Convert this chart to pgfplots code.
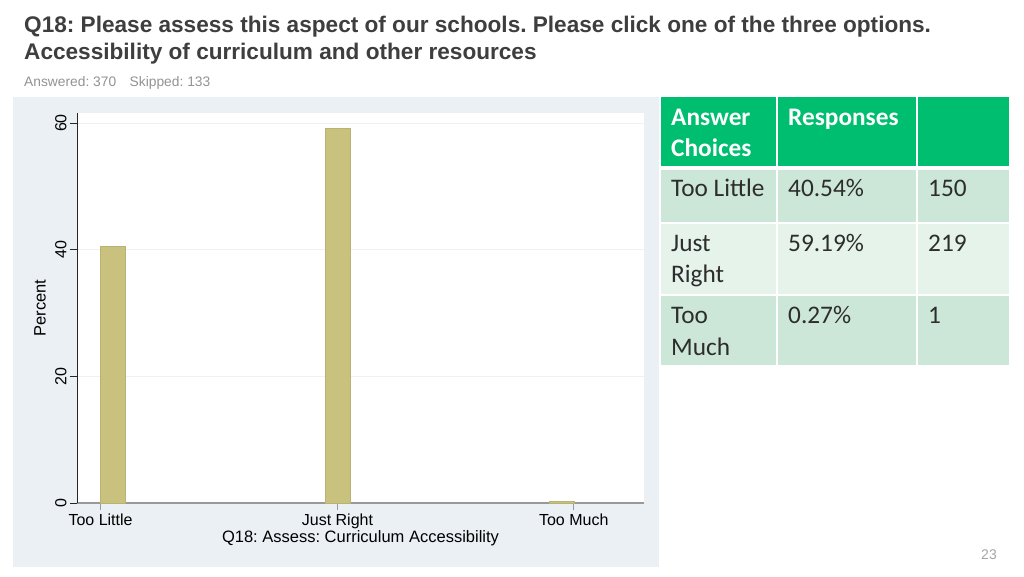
\documentclass[border=0pt]{standalone}
\usepackage{pgfplots}
\pgfplotsset{compat=1.18}
\usepackage{fontspec}
\setmainfont{Liberation Sans}
\newfontfamily\calfont{Carlito}
\definecolor{panel}{RGB}{234,240,243}
\definecolor{barcol}{RGB}{201,194,126}
\definecolor{hdr}{RGB}{0,190,111}
\definecolor{rowA}{RGB}{204,231,215}
\definecolor{rowB}{RGB}{229,243,234}
\definecolor{titlec}{RGB}{62,62,62}
\definecolor{cellt}{RGB}{45,45,45}
\begin{document}
\frenchspacing
\begin{tikzpicture}
\fill[white] (0pt,0pt) rectangle (1024pt,576pt);
\path[use as bounding box] (0pt,0pt) rectangle (1024pt,576pt);
% title
\node[anchor=base west,inner sep=0,text=titlec,font=\fontsize{22.6}{26}\selectfont\bfseries] at (24pt,543pt) {Q18: Please assess this aspect of our schools. Please click one of the three options.};
\node[anchor=base west,inner sep=0,text=titlec,font=\fontsize{22.6}{26}\selectfont\bfseries] at (24pt,516pt) {Accessibility of curriculum and other resources};
\node[anchor=base west,inner sep=0,text=gray!85,font=\fontsize{13.8}{16}\selectfont] at (24pt,489pt) {Answered: 370\hspace{0.7em} Skipped: 133};
% panel
\fill[panel] (13pt,9pt) rectangle (659pt,479pt);
\begin{axis}[
  at={(77pt,73pt)}, anchor=south west,
  scale only axis, width=567pt, height=390pt,
  xmin=-0.160, xmax=2.365, ymin=0, ymax=61.58,
  axis background/.style={fill=white},
  axis x line=bottom, axis y line=left,
  x axis line style={-, draw=gray!80, line width=1.3pt},
  y axis line style={-, draw=black!85, line width=0.7pt},
  tick align=outside, major tick length=7pt,
  xtick={-0.055,1,2.052}, xticklabels={Too Little,Just Right,Too Much},
  ytick={0,20,40,60},
  ymajorgrids, grid style={draw=gray!12, line width=0.8pt},
  xtick style={draw=gray!80, line width=0.8pt},
  ytick style={draw=black!85, line width=0.7pt},
  tick label style={font=\fontsize{16}{19}\selectfont},
  /pgf/number format/assume math mode=true,
  yticklabel style={rotate=90, anchor=south},
  xlabel={Q18: Assess: Curriculum Accessibility},
  ylabel={Percent},
  label style={font=\fontsize{16.5}{19}\selectfont},
  xlabel style={at={(axis description cs:0.5,-0.09)}, anchor=center},
  ylabel style={at={(axis description cs:-0.065,0.5)}, anchor=center},
  clip=false,
]
\addplot[ybar, bar width=24.7pt, fill=barcol, draw=barcol!92!black, line width=0.4pt] coordinates {(0,40.54) (1,59.19) (2,0.27)};
\end{axis}
% table
\fill[hdr] (661pt,410pt) rectangle (776pt,479pt);
\fill[hdr] (778pt,410pt) rectangle (916pt,479pt);
\fill[hdr] (918pt,410pt) rectangle (1009pt,479pt);
\fill[rowA] (661pt,354pt) rectangle (776pt,406pt);
\fill[rowA] (778pt,354pt) rectangle (916pt,406pt);
\fill[rowA] (918pt,354pt) rectangle (1009pt,406pt);
\fill[rowB] (661pt,282pt) rectangle (776pt,352pt);
\fill[rowB] (778pt,282pt) rectangle (916pt,352pt);
\fill[rowB] (918pt,282pt) rectangle (1009pt,352pt);
\fill[rowA] (661pt,211pt) rectangle (776pt,280pt);
\fill[rowA] (778pt,211pt) rectangle (916pt,280pt);
\fill[rowA] (918pt,211pt) rectangle (1009pt,280pt);
\begin{scope}[every node/.style={anchor=base west,inner sep=0,font=\calfont\fontsize{25.3}{30}\selectfont}]
\node[text=white,font=\calfont\fontsize{25.3}{30}\selectfont\bfseries] at (671pt,450pt) {Answer};
\node[text=white,font=\calfont\fontsize{25.3}{30}\selectfont\bfseries] at (671pt,419pt) {Choices};
\node[text=white,font=\calfont\fontsize{25.3}{30}\selectfont\bfseries] at (788pt,450pt) {Responses};
\node[text=cellt] at (671pt,379pt) {Too Little};
\node[text=cellt] at (788pt,379pt) {40.54\%};
\node[text=cellt] at (928pt,379pt) {150};
\node[text=cellt] at (671pt,324pt) {Just};
\node[text=cellt] at (671pt,293pt) {Right};
\node[text=cellt] at (788pt,324pt) {59.19\%};
\node[text=cellt] at (928pt,324pt) {219};
\node[text=cellt] at (671pt,252pt) {Too};
\node[text=cellt] at (671pt,221pt) {Much};
\node[text=cellt] at (788pt,252pt) {0.27\%};
\node[text=cellt] at (928pt,252pt) {1};
\end{scope}
\node[anchor=center,inner sep=0,text=gray!70,font=\fontsize{14}{16}\selectfont] at (989pt,21pt) {23};
\end{tikzpicture}
\end{document}
